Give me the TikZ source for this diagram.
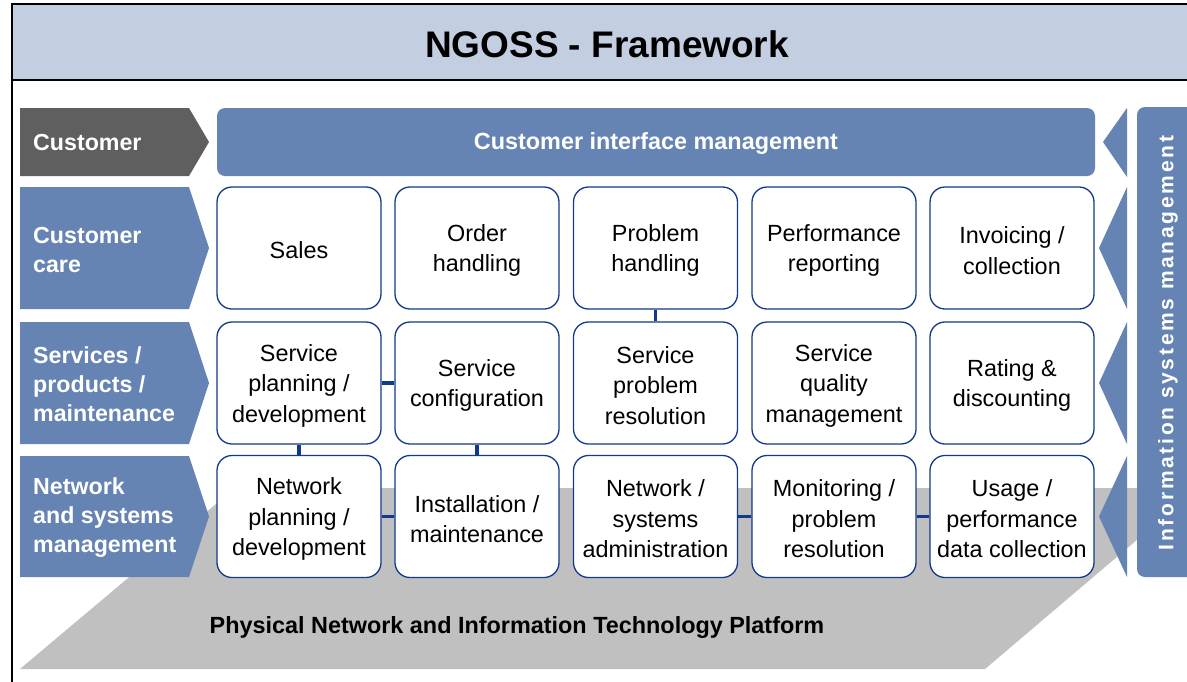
\documentclass[tikz,border=0pt]{standalone}
\usepackage{fontspec}
\setmainfont{Liberation Sans}
\definecolor{band}{RGB}{196,206,225}
\definecolor{ngblue}{RGB}{101,132,179}
\definecolor{ngdark}{RGB}{95,95,95}
\definecolor{navy}{RGB}{18,58,138}
\definecolor{plat}{RGB}{192,192,192}
\newcommand\ngbox[3]{%
  \node[box] (#1) at (#2) {};
  \node[boxtext] (#1t) at ([yshift=-2.5pt]#1.center) {#3};}
\begin{document}
\begin{tikzpicture}[x=1pt,y=-1pt,
  box/.style={draw=navy, line width=1.3pt, fill=white, rounded corners=15pt,
    minimum width=164pt, minimum height=122pt, inner sep=0pt},
  boxtext/.style={inner sep=0pt, align=center,
    font=\fontsize{23.4}{30.5}\selectfont},
  lbl/.style={anchor=west, align=left, text=white, inner sep=0pt,
    font=\fontsize{23.2}{29}\selectfont\bfseries},
  chev/.style={fill=ngblue},
  link/.style={draw=navy, line width=3.5pt},
  frame/.style={draw=black, line width=2pt}]
\useasboundingbox (0,0) rectangle (1187,681);
\begin{scope}
\clip (0,0) rectangle (1187,681);
% title band
\fill[white] (0,0) rectangle (1187,681);
\fill[band] (12,4) rectangle (1190,80);
\draw[frame] (1190,80) -- (12,80);
\draw[frame] (1190,4) -- (12,4) -- (12,690);
\node[font=\fontsize{37}{37}\selectfont\bfseries] (title) at (607,44) {NGOSS - Framework};
% platform
\fill[plat] (20,669) -- (235,488) -- (1198,488) -- (985,669) -- cycle;
\node[font=\fontsize{23.4}{28}\selectfont\bfseries] (platform) at (517,627) {Physical Network and Information Technology Platform};
% left chevrons
\fill[ngdark] (20,108) -- (189,108) -- (209,142) -- (189,176) -- (20,176) -- cycle;
\fill[chev] (20,187) -- (189,187) -- (209,248) -- (189,309) -- (20,309) -- cycle;
\fill[chev] (20,322) -- (189,322) -- (209,383) -- (189,444) -- (20,444) -- cycle;
\fill[chev] (20,456) -- (189,456) -- (209,516.5) -- (189,577) -- (20,577) -- cycle;
\node[lbl] (lcust) at (33,143) {Customer};
\node[lbl] (lcare) at (33,250) {Customer\\care};
\node[lbl] (lserv) at (33,384) {Services /\\products /\\maintenance};
\node[lbl] (lnet) at (33,518) {Network\\and systems\\management};
% customer interface management
\fill[ngblue, rounded corners=8pt] (217,108) rectangle (1095,176);
\node[text=white, font=\fontsize{23.4}{28}\selectfont\bfseries] (cim) at (656,143.5) {Customer interface management};
% right chevrons
\fill[chev] (1127,108) -- (1103,142) -- (1127,177) -- cycle;
\fill[chev] (1127,187) -- (1099,248) -- (1127,309) -- cycle;
\fill[chev] (1127,322) -- (1099,383) -- (1127,444) -- cycle;
\fill[chev] (1127,456) -- (1099,516.5) -- (1127,577) -- cycle;
% information systems management bar
\fill[ngblue, rounded corners=8pt] (1137,107) rectangle (1210,577);
\node[rotate=90, text=white, inner sep=0pt,
  font=\fontsize{21}{21}\selectfont\bfseries\addfontfeature{LetterSpace=13}] (ism) at (1168,343) {Information systems management};
% boxes
\ngbox{sales}{299,248}{Sales}
\ngbox{order}{477,248}{Order\\handling}
\ngbox{problem}{655.5,248}{Problem\\handling}
\ngbox{perf}{834,248}{Performance\\reporting}
\ngbox{invoice}{1012,248}{Invoicing /\\collection}
\ngbox{splan}{299,383}{Service\\planning /\\development}
\ngbox{sconf}{477,383}{Service\\configuration}
\ngbox{sprob}{655.5,383}{Service\\problem\\resolution}
\ngbox{squal}{834,383}{Service\\quality\\management}
\ngbox{rating}{1012,383}{Rating \&\\discounting}
\ngbox{nplan}{299,516.5}{Network\\planning /\\development}
\ngbox{install}{477,516.5}{Installation /\\maintenance}
\ngbox{nsys}{655.5,516.5}{Network /\\systems\\administration}
\ngbox{monitor}{834,516.5}{Monitoring /\\problem\\resolution}
\ngbox{usage}{1012,516.5}{Usage /\\performance\\data collection}
% connectors
\draw[link] (problem.south) -- (sprob.north);
\draw[link] (splan.east) -- (sconf.west);
\draw[link] (splan.south) -- (nplan.north);
\draw[link] (sconf.south) -- (install.north);
\draw[link] (nplan.east) -- (install.west);
\draw[link] (nsys.east) -- (monitor.west);
\draw[link] (monitor.east) -- (usage.west);
\end{scope}
\end{tikzpicture}
\end{document}
